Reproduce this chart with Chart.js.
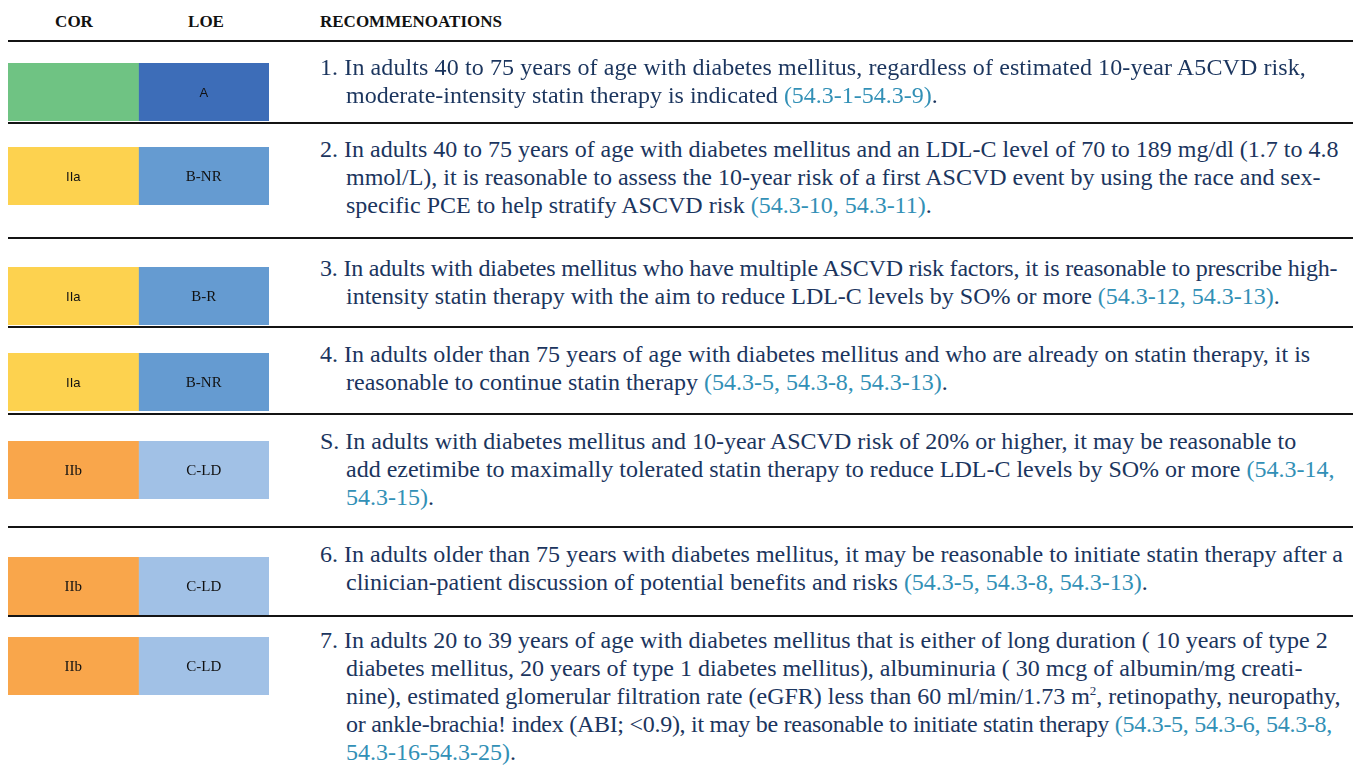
<!DOCTYPE html>
<html>
<head>
<meta charset="utf-8">
<script src="https://cdn.jsdelivr.net/npm/chart.js@4.4.1/dist/chart.umd.min.js"></script>
<style>
  html, body { margin: 0; padding: 0; background: #fff; }
  #page { position: relative; width: 1362px; height: 765px; overflow: hidden; font-family: "Liberation Serif", "Times New Roman", serif; }
  .hd { position: absolute; top: 12px; font-weight: bold; font-size: 17px; color: #111; line-height: 20px; }
  .row { position: absolute; left: 0; width: 1362px; }
  .rule { position: absolute; left: 8px; width: 1345px; height: 2px; top: -1px; background: #141414; }
  .blk { position: absolute; left: 8px; width: 261px; height: 58px; }
  .blk canvas { display: block; }
  .lbl { position: absolute; transform: translate(-50%, -50%); color: #111; white-space: nowrap; }
  .lbl.serif { font-family: "Liberation Serif", serif; font-size: 15px; }
  .lbl.sans { font-family: "Liberation Sans", Arial, sans-serif; font-size: 13px; }
  .txt { position: absolute; left: 320px; padding-left: 26px; text-indent: -26px; font-size: 24px; line-height: 28px; color: #1b355e; white-space: nowrap; }
  .ref { color: #3290b6; }
  sup { font-size: 13px; line-height: 0; vertical-align: 9px; }
</style>
</head>
<body>
<div id="page">
  <div class="hd" style="left:74px;transform:translateX(-50%)">COR</div>
  <div class="hd" style="left:206px;transform:translateX(-50%)">LOE</div>
  <div class="hd" style="left:320px">RECOMMENOATIONS</div>
</div>
<script>
// class of recommendation / level of evidence per row
const corClass = ['I', 'IIa', 'IIa', 'IIa', 'IIb', 'IIb', 'IIb'];
const corText = ['', 'IIa', 'IIa', 'IIa', 'IIb', 'IIb', 'IIb'];
const loeLevel = ['A', 'B-NR', 'B-R', 'B-NR', 'C-LD', 'C-LD', 'C-LD'];
const corSpan = [1, 1, 1, 1, 1, 1, 1];
const loeSpan = [1, 1, 1, 1, 1, 1, 1];

// recommendation text, one entry per printed line; refs follow the last words
const recLines = [
  ['1. In adults 40 to 75 years of age with diabetes mellitus, regardless of estimated 10-year A5CVD risk,',
   'moderate-intensity statin therapy is indicated '],
  ['2. In adults 40 to 75 years of age with diabetes mellitus and an LDL-C level of 70 to 189 mg/dl (1.7 to 4.8',
   'mmol/L), it is reasonable to assess the 10-year risk of a first ASCVD event by using the race and sex-',
   'specific PCE to help stratify ASCVD risk '],
  ['3. In adults with diabetes mellitus who have multiple ASCVD risk factors, it is reasonable to prescribe high-',
   'intensity statin therapy with the aim to reduce LDL-C levels by SO% or more '],
  ['4. In adults older than 75 years of age with diabetes mellitus and who are already on statin therapy, it is',
   'reasonable to continue statin therapy '],
  ['S. In adults with diabetes mellitus and 10-year ASCVD risk of 20% or higher, it may be reasonable to',
   'add ezetimibe to maximally tolerated statin therapy to reduce LDL-C levels by SO% or more '],
  ['6. In adults older than 75 years with diabetes mellitus, it may be reasonable to initiate statin therapy after a',
   'clinician-patient discussion of potential benefits and risks '],
  ['7. In adults 20 to 39 years of age with diabetes mellitus that is either of long duration ( 10 years of type 2',
   'diabetes mellitus, 20 years of type 1 diabetes mellitus), albuminuria ( 30 mcg of albumin/mg creati-',
   'nine), estimated glomerular filtration rate (eGFR) less than 60 ml/min/1.73 m<sup>2</sup>, retinopathy, neuropathy,',
   'or ankle-brachia! index (ABI; <0.9), it may be reasonable to initiate statin therapy ']
];
const recRefs = [
  ['(54.3-1-54.3-9)'],
  ['(54.3-10, 54.3-11)'],
  ['(54.3-12, 54.3-13)'],
  ['(54.3-5, 54.3-8, 54.3-13)'],
  ['(54.3-14,', '54.3-15)'],
  ['(54.3-5, 54.3-8, 54.3-13)'],
  ['(54.3-5, 54.3-6, 54.3-8,', '54.3-16-54.3-25)']
];

const corColors = { 'I': '#6fc383', 'IIa': '#fdd24f', 'IIb': '#f9a64b' };
const loeColors = { 'A': '#3d6db8', 'B-R': '#659bd1', 'B-NR': '#659bd1', 'C-LD': '#a1c1e6' };
const sansLabels = ['A', 'IIa'];

// layout only
const rowTop = [41, 123, 238, 327, 414, 527, 616];
const rowEnd = 765;
const blockTop = [22, 24, 29, 26, 27, 30, 21];
const textTop = [12, 12, 16, 13, 13, 13, 10];
// a few printed lines are set tighter than the rest
const tightLines = { '2-0': -0.2, '6-3': -0.28, '0-0': 0.1 };

const page = document.getElementById('page');

function escapeText(s) {
  return s.replace(/&/g, '&amp;').replace(/<(?!\/?sup>)/g, '&lt;');
}

function buildText(i) {
  let lines = recLines[i].map(escapeText);
  let refs = recRefs[i];
  let last = lines.length - 1;
  lines[last] += `<span class="ref">${refs[0]}</span>`;
  if (refs.length > 1) {
    lines.push(`<span class="ref">${refs[1]}</span>.`);
  } else {
    lines[last] += '.';
  }
  lines = lines.map((l, j) => {
    const ls = tightLines[i + '-' + j];
    return ls ? `<span style="letter-spacing:${ls}px">${l}</span>` : l;
  });
  return lines.join('<br>');
}

for (let i = 0; i < corClass.length; i++) {
  const row = document.createElement('div');
  row.className = 'row';
  row.style.top = rowTop[i] + 'px';
  row.style.height = ((rowTop[i + 1] || rowEnd) - rowTop[i]) + 'px';
  row.innerHTML = `<div class="rule"></div>
    <div class="blk" style="top:${blockTop[i]}px"><canvas width="261" height="58"></canvas></div>
    <div class="txt" style="top:${textTop[i]}px">${buildText(i)}</div>`;
  page.appendChild(row);

  const blk = row.querySelector('.blk');
  const chart = new Chart(row.querySelector('canvas'), {
    type: 'bar',
    data: {
      labels: [String(i + 1)],
      datasets: [
        { label: 'COR', data: [corSpan[i]], backgroundColor: corColors[corClass[i]] },
        { label: 'LOE', data: [loeSpan[i]], backgroundColor: loeColors[loeLevel[i]] }
      ]
    },
    options: {
      indexAxis: 'y',
      responsive: false,
      animation: false,
      devicePixelRatio: 1,
      layout: { padding: 0 },
      datasets: { bar: { barPercentage: 1, categoryPercentage: 1, borderWidth: 0 } },
      scales: {
        x: { stacked: true, display: false, min: 0, max: corSpan[i] + loeSpan[i] },
        y: { stacked: true, display: false }
      },
      plugins: { legend: { display: false }, tooltip: { enabled: false } }
    }
  });

  // put the COR / LOE labels in the middle of each segment
  [corText[i], loeLevel[i]].forEach((txt, d) => {
    if (!txt) return;
    const el = chart.getDatasetMeta(d).data[0];
    const lbl = document.createElement('div');
    lbl.className = 'lbl ' + (sansLabels.includes(txt) ? 'sans' : 'serif');
    lbl.textContent = txt;
    lbl.style.left = ((el.x + el.base) / 2) + 'px';
    lbl.style.top = el.y + 'px';
    blk.appendChild(lbl);
  });
}
</script>
</body>
</html>
